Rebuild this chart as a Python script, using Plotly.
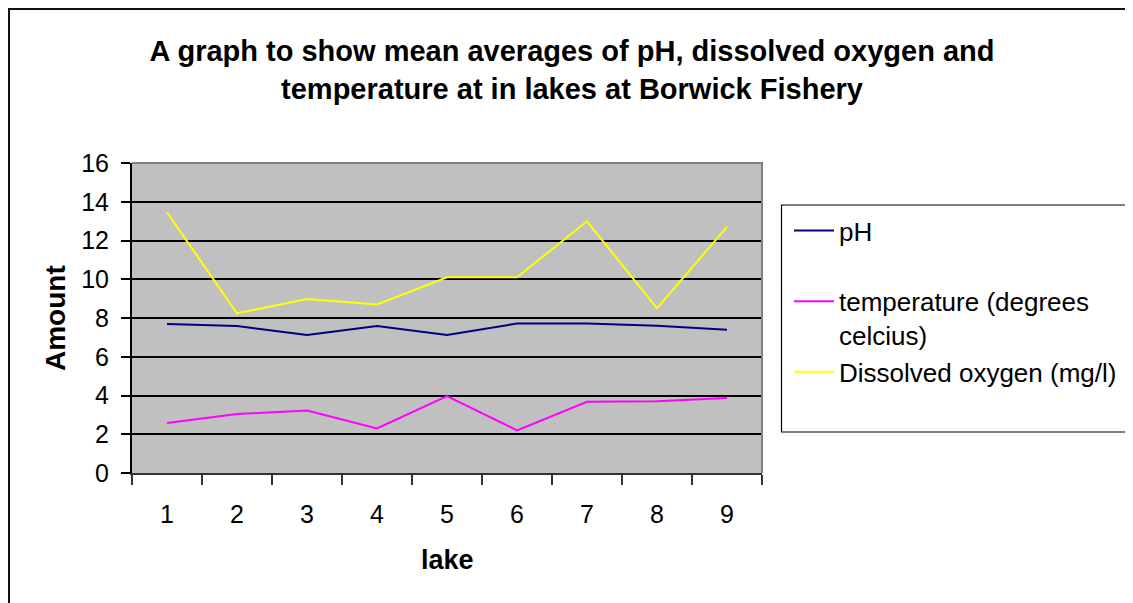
import plotly.graph_objects as go

# lake numbers and the mean readings per lake
lakes = ["1", "2", "3", "4", "5", "6", "7", "8", "9"]
ph = [7.69, 7.59, 7.12, 7.59, 7.12, 7.71, 7.71, 7.60, 7.40]
temperature = [2.58, 3.04, 3.23, 2.30, 3.97, 2.20, 3.68, 3.70, 3.87]
dissolved_oxygen = [13.45, 8.24, 8.98, 8.70, 10.10, 10.10, 12.99, 8.50, 12.70]

y_ticks = [0, 2, 4, 6, 8, 10, 12, 14, 16]

# the page body adds an 8px offset, so the figure is a bit smaller
OFF = 8
W, H = 1133 - OFF, 603 - OFF
L, T = 132 - OFF, 163 - OFF
R = W - (762 - OFF)
B = H - (473 - OFF)
PW, PH = W - L - R, H - T - B


def px_x(x):
    # screen x of the reference -> paper x
    return (x - OFF - L) / PW


def px_y(y):
    # screen y of the reference -> paper y
    return (H - B - (y - OFF)) / PH


fig = go.Figure()

fig.add_trace(go.Scatter(x=lakes, y=ph, mode="lines", name="pH",
                         line=dict(color="#000080", width=2),
                         legendgroup="a"))
fig.add_trace(go.Scatter(x=lakes, y=temperature, mode="lines",
                         name="temperature (degrees<br>celcius)",
                         line=dict(color="#FF00FF", width=2),
                         legendgroup="b"))
fig.add_trace(go.Scatter(x=lakes, y=dissolved_oxygen, mode="lines",
                         name="Dissolved oxygen (mg/l)",
                         line=dict(color="#FFFF00", width=2),
                         legendgroup="b"))

font = "Arial, Liberation Sans, sans-serif"

fig.update_layout(
    width=W, height=H,
    margin=dict(l=L, r=R, t=T, b=B, autoexpand=False),
    paper_bgcolor="white",
    plot_bgcolor="#C0C0C0",
    font=dict(family=font, color="black", size=25),
    title=dict(
        text="<b>A graph to show mean averages of pH, dissolved oxygen and<br>"
             "temperature at in lakes at Borwick Fishery</b>",
        x=(572 - OFF) / W, xanchor="center",
        y=1 - (61 - OFF) / H, yanchor="middle", yref="container",
        font=dict(size=29, family=font),
    ),
    legend=dict(
        x=px_x(789), y=px_y(207), xanchor="left", yanchor="top",
        bgcolor="rgba(0,0,0,0)", borderwidth=0,
        font=dict(size=26, family=font),
        traceorder="grouped", tracegroupgap=34,
        itemwidth=40, valign="top",
    ),
    showlegend=True,
)

fig.update_xaxes(
    type="category", range=[-0.5, 8.5], tickson="boundaries",
    ticks="outside", ticklen=10, tickcolor="#333", tickwidth=1.5,
    showline=True, linecolor="#333", linewidth=2,
    showgrid=False, zeroline=False,
    ticklabelstandoff=18,
    tickfont=dict(size=25),
)
fig.update_yaxes(
    range=[0, 16], tickvals=y_ticks,
    ticks="outside", ticklen=9, tickcolor="black", tickwidth=1.5,
    showline=True, linecolor="black", linewidth=2,
    showgrid=True, gridcolor="black", gridwidth=1.5,
    zeroline=False,
    ticklabelstandoff=7,
    tickfont=dict(size=25),
)

# axis titles
fig.add_annotation(text="<b>Amount</b>", textangle=-90, showarrow=False,
                   x=px_x(55), y=0.5, xref="paper", yref="paper",
                   xanchor="center", yanchor="middle", font=dict(size=28))
fig.add_annotation(text="<b>lake</b>", showarrow=False,
                   x=0.5, y=px_y(560), xref="paper", yref="paper",
                   xanchor="center", yanchor="middle", font=dict(size=27))

# plot-area border on top and right, outer chart border, legend box
fig.add_shape(type="path", xref="paper", yref="paper",
              path="M 0,1 L 1,1 L 1,0", line=dict(color="#808080", width=2),
              layer="above")
fig.add_shape(type="rect", xref="paper", yref="paper",
              x0=px_x(9), x1=px_x(1145), y0=px_y(615), y1=px_y(9),
              line=dict(color="#111", width=2))
fig.add_shape(type="rect", xref="paper", yref="paper",
              x0=px_x(781.5), x1=px_x(1127), y0=px_y(432), y1=px_y(205),
              line=dict(color="black", width=1.2))

fig.write_html("out.html")
